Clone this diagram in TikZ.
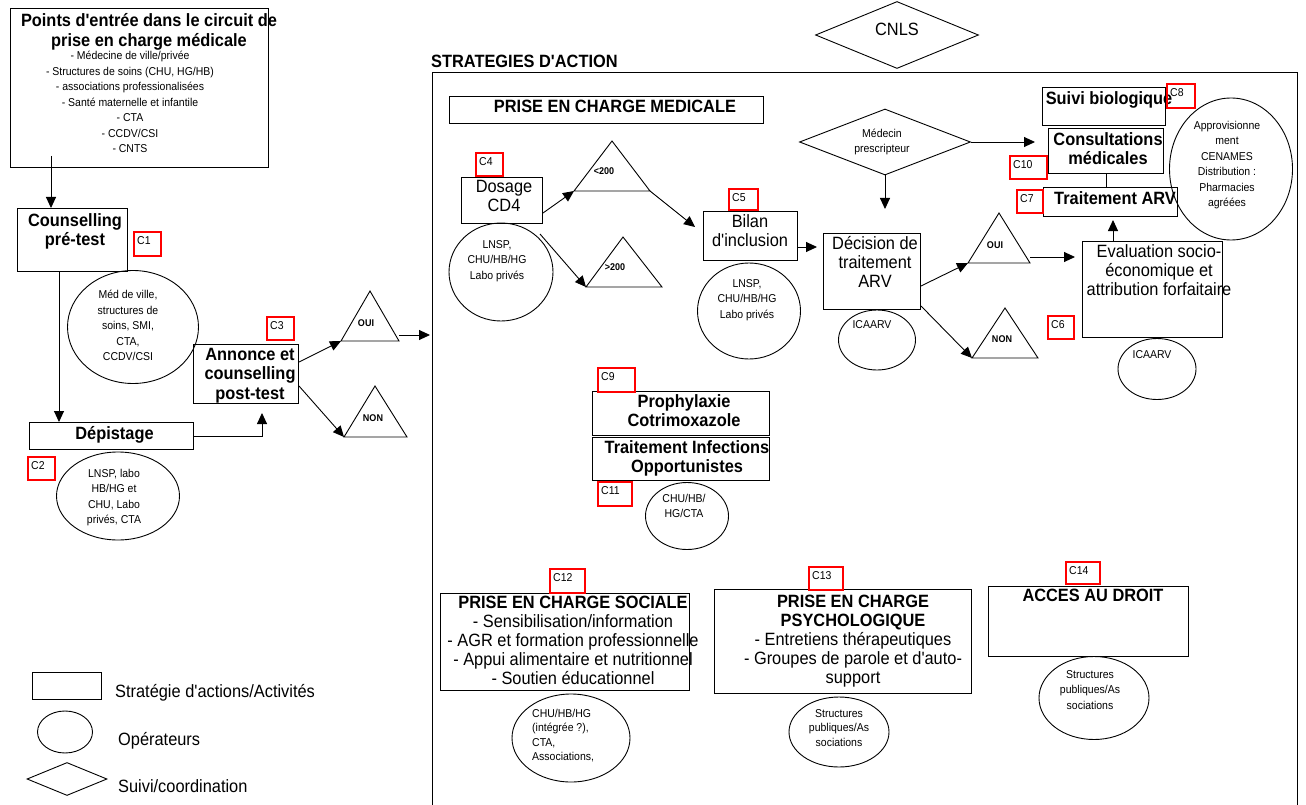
\documentclass[tikz,border=0pt]{standalone}
\usepackage{fontspec}
\setmainfont{Liberation Sans}[FakeStretch=0.92, Ligatures=TeXOff]
\usetikzlibrary{shapes.geometric,arrows.meta}

\newcommand\fbig{\fontsize{17.8}{19.5}\selectfont\bfseries}
\newcommand\fmed{\fontsize{17.8}{19}\selectfont}
\newcommand\fsmall{\fontsize{11.4}{15.5}\selectfont}
\newcommand\ftiny{\fontsize{9.8}{11}\selectfont\bfseries}
\newcommand\ftag{\fontsize{11.4}{12}\selectfont}

\begin{document}
\begin{tikzpicture}[x=1pt,y=-1pt,
  box/.style={draw, line width=1pt, inner sep=0pt, anchor=north west},
  op/.style={draw, ellipse, line width=0.9pt, inner sep=0pt},
  lozenge/.style={draw, diamond, line width=0.9pt, inner sep=0pt},
  tag/.style={draw=red, line width=2.2pt, inner sep=0pt, anchor=north west},
  arr/.style={-{Triangle[length=11pt,width=10pt]}, line width=0.9pt},
  tri/.style={line width=0.9pt},
  bigtxt/.style={font=\fbig, align=center, inner sep=0pt, anchor=north},
  medtxt/.style={font=\fmed, align=center, inner sep=0pt, anchor=north},
  optxt/.style={font=\fsmall, align=center, inner sep=0pt, anchor=north},
  tritxt/.style={font=\ftiny, inner sep=0pt},
  tagtxt/.style={font=\ftag, inner sep=0pt, anchor=north west}]

\useasboundingbox (0,0) rectangle (1306,805);

% points d'entree et depistage
\node[box, minimum width=258, minimum height=159] (entree) at (10,8) {};
\node[bigtxt] (entree-t) at (149,13.5) {Points d'entrée dans le circuit de\\prise en charge médicale};
\node[optxt] (entree-l) at (130,51) {- Médecine de ville/privée\\- Structures de soins (CHU, HG/HB)\\- associations professionalisées\\- Santé maternelle et infantile\\- CTA\\- CCDV/CSI\\- CNTS};
\node[box, minimum width=110, minimum height=63] (cpre) at (17,208) {};
\node[bigtxt] (cpre-t) at (75,213) {Counselling\\pré-test};
\node[op, minimum width=131, minimum height=113] (op1) at (133,327) {};
\node[optxt] (op1-t) at (128,290) {Méd de ville,\\structures de\\soins, SMI,\\CTA,\\CCDV/CSI};
\node[box, minimum width=164, minimum height=27] (depist) at (29,422) {};
\node[bigtxt] (depist-t) at (114.5,426) {Dépistage};
\node[op, minimum width=123, minimum height=88] (op2) at (118,496) {};
\node[optxt] (op2-t) at (114,469) {LNSP, labo\\HB/HG et\\CHU, Labo\\privés, CTA};
\node[box, minimum width=105, minimum height=59] (annonce) at (193,344) {};
\node[bigtxt] (annonce-t) at (250,348) {Annonce et\\counselling\\post-test};
\draw[tri] (341,341) coordinate (oui1a) -- (370,291) -- (399,341) coordinate (oui1b) -- cycle;
\node[tritxt] (oui1-t) at (366,323) {OUI};
\draw[tri] (344,437) coordinate (non1a) -- (375,386) -- (407,437) coordinate (non1b) -- cycle;
\node[tritxt] (non1-t) at (373,418) {NON};

% cadre des strategies
\node[box, minimum width=865, minimum height=750] (frame) at (432,72) {};
\node[font=\fbig, inner sep=0pt, anchor=base west] (frame-t) at (431,68) {STRATEGIES D'ACTION};
\node[lozenge, minimum width=163, minimum height=67] (cnls) at (897,35) {};
\node[medtxt] (cnls-t) at (897,23) {CNLS};

% prise en charge medicale
\node[box, minimum width=314, minimum height=27] (pecm) at (449,96) {};
\node[bigtxt] (pecm-t) at (615,100) {PRISE EN CHARGE MEDICALE};
\node[box, minimum width=81, minimum height=46] (dosage) at (461,177) {};
\node[medtxt] (dosage-t) at (504,180) {Dosage\\CD4};
\node[op, minimum width=104, minimum height=98] (op4) at (501,272) {};
\node[optxt] (op4-t) at (497,240) {LNSP,\\CHU/HB/HG\\Labo privés};
\draw[tri] (574,191) coordinate (lt200a) -- (612,141) -- (650,191) coordinate (lt200b) -- cycle;
\node[tritxt] (lt200-t) at (604,171) {<200};
\draw[tri] (586,287) coordinate (gt200a) -- (623,237) -- (662,287) coordinate (gt200b) -- cycle;
\node[tritxt] (gt200-t) at (615,267) {>200};
\node[box, minimum width=94, minimum height=49] (bilan) at (703,211) {};
\node[medtxt] (bilan-t) at (750,214) {Bilan\\d'inclusion};
\node[op, minimum width=103, minimum height=96] (op5) at (749,311) {};
\node[optxt] (op5-t) at (747,279) {LNSP,\\CHU/HB/HG\\Labo privés};
\node[box, minimum width=97, minimum height=76] (decision) at (823,233) {};
\node[medtxt] (decision-t) at (875,236) {Décision de\\traitement\\ARV};
\node[op, minimum width=77, minimum height=60] (icaarv1) at (877,340) {};
\node[optxt] (icaarv1-t) at (872,320) {ICAARV};
\node[lozenge, minimum width=171, minimum height=66] (medecin) at (885,142) {};
\node[optxt, font=\fontsize{11.4}{15}\selectfont] (medecin-t) at (882,129) {Médecin\\prescripteur};
\draw[tri] (968,263) coordinate (oui2a) -- (999,213) -- (1030,263) coordinate (oui2b) -- cycle;
\node[tritxt] (oui2-t) at (995,245) {OUI};
\draw[tri] (972,358) coordinate (non2a) -- (1005,308) -- (1038,358) coordinate (non2b) -- cycle;
\node[tritxt] (non2-t) at (1002,339) {NON};
\node[box, minimum width=123, minimum height=38] (suivi) at (1042,87) {};
\node[bigtxt] (suivi-t) at (1109,91) {Suivi biologique};
\node[box, minimum width=115, minimum height=45] (consult) at (1048,128) {};
\node[bigtxt] (consult-t) at (1108,132) {Consultations\\médicales};
\node[box, minimum width=134, minimum height=29] (traitarv) at (1043,187) {};
\node[bigtxt] (traitarv-t) at (1115,191) {Traitement ARV};
\node[op, minimum width=123, minimum height=142] (appro) at (1231,169) {};
\node[optxt] (appro-t) at (1227,121) {Approvisionne\\ment\\CENAMES\\Distribution :\\Pharmacies\\agréées};
\node[box, minimum width=140, minimum height=96] (eval) at (1082,241) {};
\node[medtxt] (eval-t) at (1159,244) {Evaluation socio-\\économique et\\attribution forfaitaire};
\node[op, minimum width=78, minimum height=61] (icaarv2) at (1157,369) {};
\node[optxt] (icaarv2-t) at (1152,350) {ICAARV};
\node[box, minimum width=177, minimum height=44] (proph) at (592,391) {};
\node[bigtxt] (proph-t) at (684,394) {Prophylaxie\\Cotrimoxazole};
\node[box, minimum width=177, minimum height=43] (toi) at (592,437) {};
\node[bigtxt] (toi-t) at (687,440) {Traitement Infections\\Opportunistes};
\node[op, minimum width=83, minimum height=67] (opchu) at (687,516) {};
\node[optxt] (opchu-t) at (684,494) {CHU/HB/\\HG/CTA};

% prises en charge sociale, psychologique, droit
\node[box, minimum width=249, minimum height=97] (social) at (440,593) {};
\node[medtxt] (social-t) at (573,596) {{\fbig PRISE EN CHARGE SOCIALE}\\- Sensibilisation/information\\- AGR et formation professionnelle\\- Appui alimentaire et nutritionnel\\- Soutien éducationnel};
\node[op, minimum width=118, minimum height=88] (opsoc) at (571,738) {};
\node[optxt, font=\fontsize{11.4}{14.5}\selectfont, anchor=north west, align=left] (opsoc-t) at (532,709) {CHU/HB/HG\\(intégrée ?),\\CTA,\\Associations,};
\node[box, minimum width=257, minimum height=104] (psycho) at (714,589) {};
\node[medtxt] (psycho-t) at (853,595) {{\fbig PRISE EN CHARGE}\\{\fbig PSYCHOLOGIQUE}\\- Entretiens thérapeutiques\\- Groupes de parole et d'auto-\\support};
\node[op, minimum width=100, minimum height=70] (oppsy) at (839,732) {};
\node[optxt, font=\fontsize{11.4}{14.5}\selectfont] (oppsy-t) at (839,709) {Structures\\publiques/As\\sociations};
\node[box, minimum width=200, minimum height=70] (acces) at (988,586) {};
\node[bigtxt] (acces-t) at (1093,589) {ACCES AU DROIT};
\node[op, minimum width=110, minimum height=83] (opacc) at (1094,698) {};
\node[optxt] (opacc-t) at (1090,670) {Structures\\publiques/As\\sociations};

% cases rouges
\foreach \n/\x/\y/\w/\h in {C1/133/231/27/24, C2/27/456/27/23, C3/266/316/27/23,
    C4/475/152/27/23, C5/728/188/29/21, C6/1047/315/26/23, C7/1016/189/26/23,
    C8/1166/83/28/24, C9/597/367/37/24, C10/1009/155/37/23, C11/597/481/34/24,
    C12/549/568/35/24, C13/808/566/34/23, C14/1065/561/34/22}
  {\node[tag, minimum width=\w, minimum height=\h] (\n) at (\x,\y) {};
   \node[tagtxt] at ([xshift=4pt,yshift=-5pt]\n.north west) {\n};}

% legende
\node[box, minimum width=69, minimum height=27] (leg1) at (32,672) {};
\node[font=\fmed, inner sep=0pt, anchor=base west] (leg1-t) at (115,697) {Stratégie d'actions/Activités};
\node[op, minimum width=55, minimum height=42] (leg2) at (65,732) {};
\node[font=\fmed, inner sep=0pt, anchor=base west] (leg2-t) at (118,745) {Opérateurs};
\node[lozenge, minimum width=80, minimum height=33] (leg3) at (67,779) {};
\node[font=\fmed, inner sep=0pt, anchor=base west] (leg3-t) at (118,792) {Suivi/coordination};

% fleches
\coordinate (o1) at ([yshift=6pt]oui1b);
\coordinate (b1) at ([yshift=14pt]bilan.south east);
\coordinate (e1) at ([xshift=31pt]eval.north west);
\coordinate (o2) at ([yshift=6pt]oui2b);
\draw[arr] ([xshift=41pt,yshift=12pt]entree.south west) -- ([xshift=34pt]cpre.north west);
\draw[arr] ([xshift=42pt]cpre.south west) -- ([xshift=30pt]depist.north west);
\draw[arr, shorten >=9pt] (depist.east) -| ([xshift=69pt]annonce.south west);
\draw[arr] ([yshift=-18pt]annonce.north east) -- (oui1a);
\draw[arr] ([yshift=18pt]annonce.south east) -- (non1a);
\draw[arr, shorten >=2pt] (o1) -- (o1 -| frame.west);
\draw[arr] ([yshift=11pt]dosage.south east) -- (lt200a);
\draw[arr] ([xshift=-3pt,yshift=-10pt]dosage.south east) -- (gt200a);
\draw[arr] (lt200b) -- ([xshift=-8pt,yshift=-16pt]bilan.north west);
\draw[arr, shorten >=6pt] (b1) -- (b1 -| decision.west);
\draw[arr, shorten >=13pt] (medecin.east) -- (medecin.east -| consult.west);
\draw[arr, shorten >=24pt] (medecin.south) -- (medecin.south |- decision.north);
\draw[line width=0.9pt] (consult.south) -- (consult.south |- traitarv.north);
\draw[arr, shorten >=3pt] (e1) -- (e1 |- traitarv.south);
\draw[arr] ([yshift=24pt]decision.south east) -- (oui2a);
\draw[arr] ([yshift=4pt]decision.south east) -- (non2a);
\draw[arr, shorten >=7pt] (o2) -- (o2 -| eval.west);
\end{tikzpicture}
\end{document}
